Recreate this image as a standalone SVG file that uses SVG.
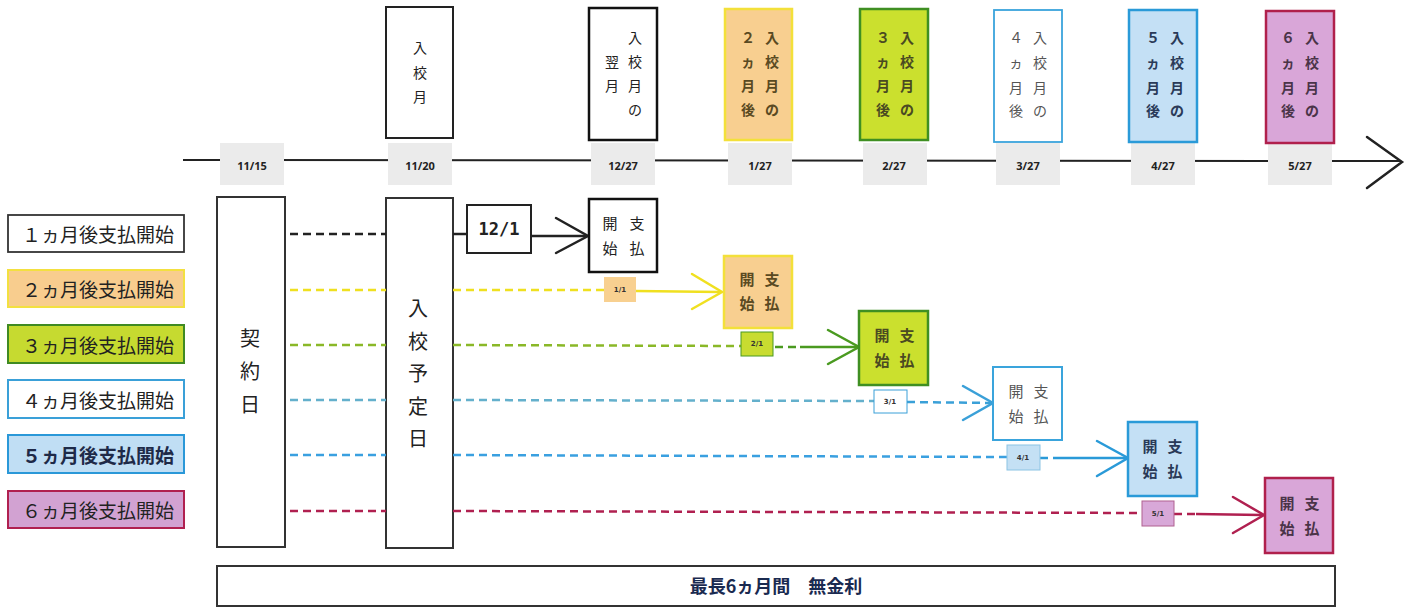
<svg xmlns="http://www.w3.org/2000/svg" width="1415" height="609" viewBox="0 0 1415 609">
<style>
text{font-family:"Noto Sans CJK JP","Noto Sans",sans-serif;text-anchor:middle;dominant-baseline:central}
.t14{font-size:14px;fill:#222}
.tb{font-size:14px;font-weight:bold}
.lab{font-size:19px;text-anchor:start;fill:#222}
.big{font-size:20px;fill:#222}
.pay{font-size:15px}
.date{font-size:11px;font-weight:bold;fill:#222;font-family:"Open Sans","Noto Sans",sans-serif}
.gray{fill:#ebebeb}
.sm{font-size:7px;font-weight:bold;fill:#333;font-family:"DejaVu Sans",sans-serif}
.dash{fill:none;stroke-width:2.5;stroke-dasharray:8 5}
.sol{fill:none;stroke-width:2.5}
.arr{fill:none;stroke-width:2.5;stroke-linecap:round;stroke-linejoin:miter}
</style>

<!-- timeline -->
<g id="timeline">
<line x1="183" y1="160" x2="1400" y2="161" stroke="#222" stroke-width="2"/>
<polyline points="1367,137 1402,162 1367,188" fill="none" stroke="#222" stroke-width="2.5" stroke-linecap="round"/>
<rect class="gray" x="220" y="143" width="64" height="42"/><text class="date" x="252" y="165">11/15</text>
<rect class="gray" x="388" y="143" width="64" height="42"/><text class="date" x="420" y="165">11/20</text>
<rect class="gray" x="591" y="143" width="64" height="42"/><text class="date" x="623" y="165">12/27</text>
<rect class="gray" x="728" y="143" width="64" height="42"/><text class="date" x="760" y="165">1/27</text>
<rect class="gray" x="863" y="143" width="64" height="42"/><text class="date" x="894" y="165">2/27</text>
<rect class="gray" x="996" y="143" width="64" height="42"/><text class="date" x="1028" y="165">3/27</text>
<rect class="gray" x="1131" y="143" width="64" height="42"/><text class="date" x="1163" y="165">4/27</text>
<rect class="gray" x="1268" y="143" width="64" height="42"/><text class="date" x="1300" y="165">5/27</text>
</g>

<!-- top month boxes -->
<g id="m0">
<rect x="386" y="7" width="67" height="131" fill="#fff" stroke="#222" stroke-width="2"/>
<text class="t14" x="420" y="47">入</text><text class="t14" x="420" y="72">校</text><text class="t14" x="420" y="96">月</text>
</g>
<g id="m1">
<rect x="589" y="8" width="68" height="132" fill="#fff" stroke="#111" stroke-width="2.5"/>
<text class="t14" x="635" y="37">入</text><text class="t14" x="635" y="61">校</text><text class="t14" x="635" y="85">月</text><text class="t14" x="635" y="109">の</text>
<text class="t14" x="612" y="61">翌</text><text class="t14" x="612" y="85">月</text>
</g>
<g id="m2">
<rect x="725" y="9" width="67" height="131" fill="#f8cf90" stroke="#f3e03a" stroke-width="2.5"/>
<g class="tb" fill="#5a4a22">
<text x="748" y="37">２</text><text x="748" y="61">ヵ</text><text x="748" y="85">月</text><text x="748" y="109">後</text>
<text x="772" y="37">入</text><text x="772" y="61">校</text><text x="772" y="85">月</text><text x="772" y="109">の</text>
</g>
</g>
<g id="m3">
<rect x="860" y="9" width="68" height="131" fill="#cbe02e" stroke="#3f8f22" stroke-width="2.5"/>
<g class="tb" fill="#4a4a22">
<text x="883" y="37">３</text><text x="883" y="61">ヵ</text><text x="883" y="85">月</text><text x="883" y="109">後</text>
<text x="907" y="37">入</text><text x="907" y="61">校</text><text x="907" y="85">月</text><text x="907" y="109">の</text>
</g>
</g>
<g id="m4">
<rect x="994" y="10" width="68" height="132" fill="#fff" stroke="#3aa4dc" stroke-width="1.8"/>
<g class="t14" fill="#555" style="fill:#555">
<text x="1016" y="37">４</text><text x="1016" y="62">ヵ</text><text x="1016" y="87">月</text><text x="1016" y="110">後</text>
<text x="1040" y="37">入</text><text x="1040" y="62">校</text><text x="1040" y="87">月</text><text x="1040" y="110">の</text>
</g>
</g>
<g id="m5">
<rect x="1129" y="10" width="68" height="132" fill="#c4e0f5" stroke="#2a9ad8" stroke-width="2.5"/>
<g class="tb" fill="#2a3a58">
<text x="1153" y="37">５</text><text x="1153" y="62">ヵ</text><text x="1153" y="87">月</text><text x="1153" y="110">後</text>
<text x="1177" y="37">入</text><text x="1177" y="62">校</text><text x="1177" y="87">月</text><text x="1177" y="110">の</text>
</g>
</g>
<g id="m6">
<rect x="1266" y="11" width="68" height="132" fill="#d9a6d8" stroke="#b0204c" stroke-width="2.5"/>
<g class="tb" fill="#4a3448">
<text x="1288" y="37">６</text><text x="1288" y="62">ヵ</text><text x="1288" y="87">月</text><text x="1288" y="110">後</text>
<text x="1312" y="37">入</text><text x="1312" y="62">校</text><text x="1312" y="87">月</text><text x="1312" y="110">の</text>
</g>
</g>

<!-- left legend labels -->
<g id="l1"><rect x="8" y="215" width="176" height="37" fill="#fff" stroke="#333" stroke-width="1.8"/><text class="lab" x="22" y="233">１ヵ月後支払開始</text></g>
<g id="l2"><rect x="8" y="270" width="176" height="37" fill="#f8cd8e" stroke="#f3e040" stroke-width="2"/><text class="lab" x="22" y="288">２ヵ月後支払開始</text></g>
<g id="l3"><rect x="8" y="325" width="176" height="38" fill="#c6da30" stroke="#3f8a22" stroke-width="2"/><text class="lab" x="22" y="344">３ヵ月後支払開始</text></g>
<g id="l4"><rect x="8" y="380" width="176" height="38" fill="#fff" stroke="#3aa0d8" stroke-width="2"/><text class="lab" x="22" y="399">４ヵ月後支払開始</text></g>
<g id="l5"><rect x="8" y="435" width="176" height="38" fill="#c0def4" stroke="#2a98d8" stroke-width="2"/><text class="lab" x="22" y="454" style="font-weight:bold;fill:#1e2a48">５ヵ月後支払開始</text></g>
<g id="l6"><rect x="8" y="491" width="176" height="37" fill="#d2a2d2" stroke="#b02050" stroke-width="2"/><text class="lab" x="22" y="509">６ヵ月後支払開始</text></g>

<!-- contract date & enrollment date -->
<g id="contract">
<rect x="217" y="197" width="68" height="350" fill="#fff" stroke="#333" stroke-width="2"/>
<text class="big" x="250" y="337">契</text><text class="big" x="250" y="370">約</text><text class="big" x="250" y="403">日</text>
</g>
<g id="enroll">
<rect x="386" y="198" width="67" height="350" fill="#fff" stroke="#333" stroke-width="2"/>
<text class="big" x="418" y="307">入</text><text class="big" x="418" y="340">校</text><text class="big" x="418" y="372">予</text><text class="big" x="418" y="405">定</text><text class="big" x="418" y="437">日</text>
</g>

<!-- connectors -->
<g id="connectors">
<!-- row 1 -->
<line class="dash" x1="290" y1="234" x2="386" y2="234" stroke="#222"/>
<line class="sol" x1="453" y1="234" x2="467" y2="234" stroke="#222"/>
<line class="sol" x1="531" y1="236" x2="586" y2="236" stroke="#222"/>
<polyline class="arr" points="556,218 588,236 556,253" stroke="#222"/>
<!-- row 2 -->
<line class="dash" x1="290" y1="290" x2="386" y2="290" stroke="#efe020"/>
<line class="dash" x1="453" y1="290" x2="604" y2="290" stroke="#efe020"/>
<line class="sol" x1="636" y1="291" x2="720" y2="292" stroke="#f0e020"/>
<polyline class="arr" points="692,274 722,292 692,309" stroke="#f0e020"/>
<!-- row 3 -->
<line class="dash" x1="290" y1="345" x2="386" y2="345" stroke="#8ab828"/>
<line class="dash" x1="453" y1="345" x2="741" y2="346" stroke="#8ab828"/>
<line class="dash" x1="775" y1="347" x2="800" y2="347" stroke="#4a9a20"/>
<line class="sol" x1="800" y1="347" x2="857" y2="347" stroke="#4a9a20"/>
<polyline class="arr" points="828,330 859,347 828,364" stroke="#4a9a20"/>
<!-- row 4 -->
<line class="dash" x1="290" y1="400" x2="386" y2="400" stroke="#64b0cc"/>
<line class="dash" x1="453" y1="400" x2="874" y2="401" stroke="#64b0cc"/>
<line class="dash" x1="907" y1="402" x2="991" y2="403" stroke="#3aa0d8"/>
<polyline class="arr" points="963,386 993,403 963,420" stroke="#3aa0d8"/>
<!-- row 5 -->
<line class="dash" x1="290" y1="455" x2="386" y2="455" stroke="#3aa0e0"/>
<line class="dash" x1="453" y1="455" x2="1007" y2="457" stroke="#3aa0e0"/>
<line class="dash" x1="1040" y1="458" x2="1060" y2="458" stroke="#2a9ad8"/>
<line class="sol" x1="1060" y1="458" x2="1126" y2="458" stroke="#2a9ad8"/>
<polyline class="arr" points="1097,441 1128,458 1097,476" stroke="#2a9ad8"/>
<!-- row 6 -->
<line class="dash" x1="290" y1="511" x2="386" y2="511" stroke="#b02050"/>
<line class="dash" x1="453" y1="511" x2="1142" y2="513" stroke="#b02050"/>
<line class="dash" x1="1174" y1="514" x2="1196" y2="514" stroke="#b02050"/>
<line class="sol" x1="1196" y1="514" x2="1262" y2="515" stroke="#b02050"/>
<polyline class="arr" points="1233,497 1264,515 1233,533" stroke="#b02050"/>
</g>

<!-- small date labels -->
<g id="d121"><rect x="467" y="205" width="64" height="48" fill="#fff" stroke="#222" stroke-width="2"/><text x="499" y="229" style="font-family:'DejaVu Sans Mono',monospace;font-size:17px;font-weight:bold;fill:#222">12/1</text></g>
<g id="d11"><rect x="604" y="277" width="32" height="25" fill="#f8d090"/><text class="sm" x="620" y="290">1/1</text></g>
<g id="d21"><rect x="741" y="332" width="32" height="24" fill="#c8dc30" stroke="#4a9a20" stroke-width="1"/><text class="sm" x="757" y="344">2/1</text></g>
<g id="d31"><rect x="874" y="390" width="33" height="23" fill="#fff" stroke="#3aa0d8" stroke-width="1"/><text class="sm" x="890" y="402">3/1</text></g>
<g id="d41"><rect x="1007" y="445" width="33" height="25" fill="#c4e0f4" stroke="#8cc4e4" stroke-width="1"/><text class="sm" x="1023" y="458">4/1</text></g>
<g id="d51"><rect x="1142" y="501" width="32" height="25" fill="#d8a8d8" stroke="#b06090" stroke-width="1"/><text class="sm" x="1158" y="514">5/1</text></g>

<!-- payment start boxes -->
<g id="p1"><rect x="589" y="199" width="68" height="73" fill="#fff" stroke="#111" stroke-width="2.5"/>
<g class="pay" fill="#222"><text x="610" y="222">開</text><text x="637" y="222">支</text><text x="610" y="247">始</text><text x="637" y="247">払</text></g></g>
<g id="p2"><rect x="724" y="256" width="68" height="72" fill="#f8cf90" stroke="#f3e03a" stroke-width="2.5"/>
<g class="pay" fill="#5a4a22" font-weight="bold"><text x="747" y="278">開</text><text x="772" y="278">支</text><text x="747" y="302">始</text><text x="772" y="302">払</text></g></g>
<g id="p3"><rect x="859" y="311" width="69" height="74" fill="#cbe02e" stroke="#3f8f22" stroke-width="2.5"/>
<g class="pay" fill="#4a4a22" font-weight="bold"><text x="882" y="334">開</text><text x="907" y="334">支</text><text x="882" y="359">始</text><text x="907" y="359">払</text></g></g>
<g id="p4"><rect x="993" y="367" width="69" height="73" fill="#fff" stroke="#3aa4dc" stroke-width="2"/>
<g class="pay" fill="#555"><text x="1016" y="390">開</text><text x="1041" y="390">支</text><text x="1016" y="415">始</text><text x="1041" y="415">払</text></g></g>
<g id="p5"><rect x="1128" y="422" width="69" height="74" fill="#c4e0f5" stroke="#2a9ad8" stroke-width="2.5"/>
<g class="pay" fill="#2a3a58" font-weight="bold"><text x="1150" y="445">開</text><text x="1175" y="445">支</text><text x="1150" y="470">始</text><text x="1175" y="470">払</text></g></g>
<g id="p6"><rect x="1265" y="478" width="68" height="75" fill="#d9a6d8" stroke="#b0204c" stroke-width="2.5"/>
<g class="pay" fill="#4a3448" font-weight="bold"><text x="1287" y="502">開</text><text x="1312" y="502">支</text><text x="1287" y="527">始</text><text x="1312" y="527">払</text></g></g>

<!-- bottom bar -->
<g id="bar">
<rect x="217" y="566" width="1118" height="40" fill="#fff" stroke="#333" stroke-width="2"/>
<text x="776" y="585" style="font-size:18px;font-weight:bold;fill:#1a2a50">最長6ヵ月間　無金利</text>
</g>
</svg>
